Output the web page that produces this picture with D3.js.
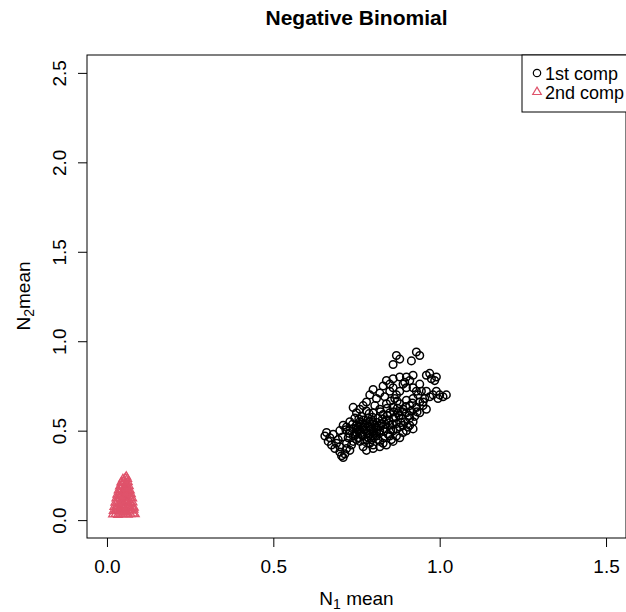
<!DOCTYPE html>
<html>
<head>
<meta charset="utf-8">
<script src="https://cdn.jsdelivr.net/npm/d3@7"></script>
<style>
  body { margin: 0; background: #fff; }
  text { font-family: "Liberation Sans", Arial, sans-serif; }
</style>
</head>
<body>
<div id="chart"></div>
<script>
// posterior draws, 1st component (black circles)
var comp1 = [
  [0.655,0.47],[0.66,0.49],[0.665,0.44],[0.67,0.46],[0.675,0.42],[0.68,0.48],[0.685,0.40],[0.69,0.43],
  [0.695,0.45],[0.70,0.41],[0.70,0.38],[0.705,0.36],[0.71,0.35],[0.715,0.37],[0.72,0.40],[0.72,0.43],
  [0.725,0.46],[0.73,0.39],[0.735,0.42],[0.74,0.44],[0.745,0.48],[0.70,0.50],[0.71,0.53],[0.72,0.52],
  [0.73,0.55],[0.74,0.51],[0.75,0.53],[0.745,0.57],
  [0.75,0.49],[0.755,0.46],[0.76,0.50],[0.76,0.55],[0.765,0.58],[0.77,0.52],[0.77,0.47],[0.775,0.44],
  [0.78,0.50],[0.78,0.54],[0.78,0.61],[0.785,0.57],[0.79,0.48],[0.79,0.52],[0.795,0.45],[0.80,0.42],
  [0.80,0.50],[0.80,0.55],[0.80,0.60],[0.805,0.64],[0.81,0.47],[0.81,0.52],[0.815,0.57],[0.82,0.44],
  [0.82,0.50],[0.82,0.62],[0.825,0.54],[0.83,0.46],[0.83,0.59],[0.835,0.51],[0.84,0.42],[0.84,0.56],
  [0.84,0.65],[0.845,0.48],[0.85,0.53],[0.85,0.60],[0.855,0.45],[0.86,0.50],[0.86,0.57],[0.86,0.63],
  [0.865,0.68],[0.87,0.54],[0.87,0.47],[0.875,0.60],[0.88,0.52],[0.88,0.65],[0.885,0.57],[0.89,0.62],
  [0.89,0.49],[0.895,0.55],[0.90,0.60],[0.90,0.67],[0.905,0.52],[0.91,0.57],[0.91,0.64],[0.915,0.61],
  [0.92,0.55],[0.92,0.68],[0.925,0.58],[0.93,0.63],[0.935,0.70],[0.94,0.60],[0.94,0.66],[0.945,0.72],
  [0.95,0.64],[0.955,0.68],[0.96,0.62],
  [0.78,0.66],[0.79,0.70],[0.80,0.73],[0.81,0.68],[0.82,0.71],[0.83,0.75],[0.835,0.69],[0.84,0.78],
  [0.85,0.72],[0.86,0.74],[0.87,0.70],[0.88,0.72],[0.89,0.76],[0.76,0.62],[0.77,0.64],[0.75,0.60],[0.74,0.63],
  [0.755,0.52],[0.765,0.49],[0.775,0.53],[0.785,0.46],[0.79,0.55],[0.795,0.51],[0.80,0.47],[0.805,0.53],
  [0.81,0.49],[0.815,0.45],[0.77,0.56],[0.78,0.45],[0.76,0.44],[0.79,0.43],[0.75,0.45],[0.73,0.50],
  [0.74,0.47],[0.77,0.41],[0.78,0.39],[0.80,0.40],[0.82,0.41],[0.83,0.43],[0.85,0.47],[0.86,0.44],
  [0.87,0.51],[0.88,0.46],[0.89,0.53],[0.90,0.50],[0.91,0.53],[0.92,0.51],
  [0.752,0.505],[0.762,0.535],[0.768,0.475],[0.773,0.505],[0.783,0.485],[0.787,0.525],[0.792,0.505],
  [0.797,0.535],[0.803,0.485],[0.808,0.515],[0.812,0.545],[0.818,0.485],[0.823,0.525],[0.828,0.565],
  [0.832,0.495],[0.838,0.535],[0.843,0.585],[0.848,0.555],[0.853,0.505],[0.858,0.535],[0.862,0.605],
  [0.868,0.575],[0.873,0.625],[0.878,0.585],[0.883,0.545],[0.888,0.605],[0.757,0.565],[0.748,0.515],
  [0.738,0.535],[0.728,0.485],[0.718,0.505],[0.708,0.465],[0.798,0.575],[0.788,0.595],[0.822,0.605],
  [0.842,0.625],[0.852,0.665],[0.872,0.665],[0.898,0.635],[0.908,0.585],[0.932,0.605],[0.918,0.655],
  [0.86,0.87],[0.87,0.92],[0.88,0.90],[0.915,0.89],[0.93,0.94],[0.94,0.92],
  [0.88,0.80],[0.90,0.80],[0.91,0.78],[0.92,0.81],[0.895,0.77],[0.96,0.81],[0.97,0.82],[0.975,0.79],
  [0.99,0.80],[0.985,0.78],[0.86,0.79],[0.85,0.76],[0.90,0.74],[0.92,0.74],[0.94,0.76],[0.93,0.72],
  [0.98,0.70],[0.99,0.72],[1.00,0.70],[1.01,0.69],[1.02,0.70],[0.995,0.68],[0.97,0.69],[0.96,0.72],[0.95,0.66]
];

// posterior draws, 2nd component (red triangles)
var comp2 = [
  [0.018,0.032],[0.026,0.035],[0.033,0.030],[0.041,0.038],[0.048,0.033],[0.056,0.036],[0.063,0.031],[0.071,0.034],[0.079,0.037],[0.084,0.033],
  [0.020,0.052],[0.028,0.058],[0.036,0.049],[0.043,0.055],[0.051,0.061],[0.058,0.050],[0.066,0.057],[0.073,0.053],[0.080,0.059],
  [0.022,0.074],[0.030,0.079],[0.038,0.071],[0.046,0.077],[0.053,0.083],[0.061,0.072],[0.068,0.078],[0.076,0.075],[0.081,0.070],
  [0.025,0.098],[0.032,0.103],[0.040,0.095],[0.047,0.101],[0.055,0.106],[0.062,0.097],[0.070,0.102],[0.077,0.099],
  [0.028,0.121],[0.035,0.126],[0.043,0.118],[0.050,0.124],[0.057,0.129],[0.064,0.120],[0.071,0.125],[0.076,0.122],
  [0.031,0.143],[0.038,0.148],[0.045,0.141],[0.052,0.147],[0.059,0.151],[0.066,0.144],[0.072,0.146],
  [0.035,0.167],[0.042,0.172],[0.049,0.165],[0.056,0.171],[0.063,0.168],[0.069,0.166],
  [0.039,0.189],[0.046,0.194],[0.053,0.187],[0.060,0.192],[0.066,0.190],
  [0.043,0.211],[0.050,0.215],[0.057,0.209],[0.063,0.213],
  [0.048,0.229],[0.055,0.234],[0.061,0.231],[0.058,0.243],
  [0.030,0.064],[0.045,0.088],[0.060,0.112],[0.050,0.158],[0.058,0.180],[0.040,0.135],[0.067,0.088],[0.052,0.045]
];

var xTicks = [0, 0.5, 1.0, 1.5];
var yTicks = [0, 0.5, 1.0, 1.5, 2.0, 2.5];
var legendLabels = ["1st comp", "2nd comp"];

var W = 626, H = 612;
var red = "#DF536B";

var svg = d3.select("#chart").append("svg")
  .attr("width", W).attr("height", H);

var x = d3.scaleLinear().domain([-0.06, 1.56]).range([87, 626]);
var y = d3.scaleLinear().domain([-0.1, 2.6]).range([538, 55]);
var fmt = d3.format(".1f");

// title
svg.append("text")
  .attr("x", 356.5).attr("y", 25)
  .attr("text-anchor", "middle")
  .attr("font-size", 21).attr("font-weight", "bold")
  .text("Negative Binomial");

// points
svg.append("g").selectAll("circle")
  .data(comp1).enter().append("circle")
  .attr("cx", function(d) { return x(d[0]); })
  .attr("cy", function(d) { return y(d[1]); })
  .attr("r", 3.8)
  .attr("fill", "none").attr("stroke", "#000").attr("stroke-width", 1.5);

var tri = "M0,-4.9L4.3,2.5L-4.3,2.5Z";
svg.append("g").selectAll("path")
  .data(comp2).enter().append("path")
  .attr("d", tri)
  .attr("transform", function(d) { return "translate(" + x(d[0]) + "," + y(d[1]) + ")"; })
  .attr("fill", "none").attr("stroke", red).attr("stroke-width", 1.3);

// plot box
svg.append("rect")
  .attr("x", 87).attr("y", 55).attr("width", 539).attr("height", 483)
  .attr("fill", "none").attr("stroke", "#000").attr("stroke-width", 1);

// axes
var gx = svg.append("g").attr("transform", "translate(0,538)")
  .call(d3.axisBottom(x).tickValues(xTicks).tickSize(9).tickFormat(fmt));
gx.select(".domain").remove();
gx.selectAll("line").attr("stroke", "#000");
gx.selectAll("text")
  .attr("y", 35).attr("dy", null)
  .attr("font-size", 19).attr("fill", "#000")
  .style("font-family", "Liberation Sans, Arial, sans-serif");

var gy = svg.append("g").attr("transform", "translate(87,0)")
  .call(d3.axisLeft(y).tickValues(yTicks).tickSize(9).tickFormat(fmt));
gy.select(".domain").remove();
gy.selectAll("line").attr("stroke", "#000");
gy.selectAll("text")
  .attr("x", null).attr("dy", null)
  .attr("text-anchor", "middle")
  .attr("transform", "translate(-21,0) rotate(-90)")
  .attr("font-size", 19).attr("fill", "#000")
  .style("font-family", "Liberation Sans, Arial, sans-serif");

// axis titles
var xl = svg.append("text")
  .attr("x", 356.5).attr("y", 605)
  .attr("text-anchor", "middle").attr("font-size", 19);
xl.append("tspan").text("N");
xl.append("tspan").attr("font-size", 14).attr("dy", 4).text("1");
xl.append("tspan").attr("dy", -4).text(" mean");

var yl = svg.append("text")
  .attr("transform", "translate(30,296) rotate(-90)")
  .attr("text-anchor", "middle").attr("font-size", 19);
yl.append("tspan").text("N");
yl.append("tspan").attr("font-size", 14).attr("dy", 4).text("2");
yl.append("tspan").attr("dy", -4).text("mean");

// legend
var leg = svg.append("g");
leg.append("rect")
  .attr("x", 522).attr("y", 55).attr("width", 120).attr("height", 57)
  .attr("fill", "#fff").attr("stroke", "#000").attr("stroke-width", 1);
var rows = leg.selectAll("g.row").data(legendLabels).enter().append("g")
  .attr("class", "row")
  .attr("transform", function(d, i) { return "translate(0," + (73 + i * 19) + ")"; });
rows.filter(function(d, i) { return i === 0; }).append("circle")
  .attr("cx", 537).attr("cy", 0).attr("r", 3.7)
  .attr("fill", "none").attr("stroke", "#000").attr("stroke-width", 1.2);
rows.filter(function(d, i) { return i === 1; }).append("path")
  .attr("d", tri).attr("transform", "translate(537,0)")
  .attr("fill", "none").attr("stroke", red).attr("stroke-width", 1.2);
rows.append("text")
  .attr("x", 545).attr("y", 6.5).attr("font-size", 18)
  .text(function(d) { return d; });
</script>
</body>
</html>
